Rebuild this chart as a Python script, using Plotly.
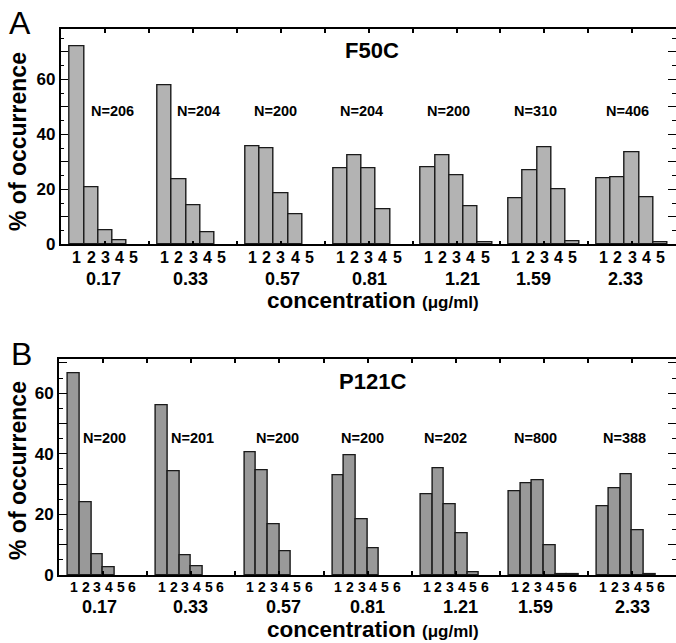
import plotly.graph_objects as go

# ---------------- data ----------------
concentrations = ["0.17", "0.33", "0.57", "0.81", "1.21", "1.59", "2.33"]

f50c_n = [206, 204, 200, 204, 200, 310, 406]
f50c_bins = ["1", "2", "3", "4", "5"]
f50c_pct = [
    [72.2, 20.8, 5.2, 1.6, 0],
    [57.8, 23.5, 14.2, 4.4, 0],
    [35.5, 34.9, 18.5, 10.9, 0],
    [27.5, 32.4, 27.5, 12.7, 0],
    [28.0, 32.4, 25.0, 13.9, 0.6],
    [16.7, 27.0, 35.3, 20.0, 1.1],
    [24.0, 24.5, 33.3, 17.1, 0.7],
]

p121c_n = [200, 201, 200, 200, 202, 800, 388]
p121c_bins = ["1", "2", "3", "4", "5", "6"]
p121c_pct = [
    [66.6, 24.0, 6.8, 2.4, 0, 0],
    [56.0, 34.2, 6.4, 2.9, 0, 0],
    [40.4, 34.4, 16.9, 7.9, 0, 0],
    [32.9, 39.5, 18.4, 8.8, 0, 0],
    [26.6, 35.1, 23.3, 13.7, 0.9, 0],
    [27.6, 30.2, 31.4, 9.8, 0.3, 0.1],
    [22.7, 28.6, 33.4, 14.6, 0.2, 0],
]

# ---------------- styling / layout ----------------
W, H = 676, 643
FONT = "Arial, Liberation Sans, sans-serif"


def fx(px):
    return px / W


def fy(px):
    return 1 - px / H


panels = [
    dict(letter="A", name="F50C", n=f50c_n, bins=f50c_bins, pct=f50c_pct,
         color="#b3b3b3", period=6.163, xrange=[-1.15, 42.06], yrange=[0, 78.2],
         left=60.5, top=29.3, bottom=244.3,
         letter_xy=(20, 23), name_xy=(372, 50), n_y=111,
         n_shift=[7, 5, -5, -7, -8, -9, -5],
         bin_y=257, bin_size=16, conc_y=279, conc_shift=[-2, -3, 2, 1, 6, -11, -7],
         title_y=300, ytitle_y=142),
    dict(letter="B", name="P121C", n=p121c_n, bins=p121c_bins, pct=p121c_pct,
         color="#999999", period=7.556, xrange=[-1.3, 51.6], yrange=[0, 71.2],
         left=58.8, top=359.3, bottom=575,
         letter_xy=(21, 354), name_xy=(372, 381), n_y=438,
         n_shift=[1, 1, -2, -5, -10, -8, -8],
         bin_y=587, bin_size=14, conc_y=607, conc_shift=[-4, -1, 4, 0, 5, -8, 0],
         title_y=629, ytitle_y=471),
]

fig = go.Figure()
annotations = []
layout_axes = {}


def ann(text, x, y, xref="paper", size=14, xshift=0, angle=0):
    return dict(text=text, x=x, y=y, xref=xref, yref="paper", showarrow=False,
                xanchor="center", yanchor="middle", xshift=xshift,
                textangle=angle, font=dict(family=FONT, size=size, color="black"))


for i, p in enumerate(panels):
    xa = "x" if i == 0 else f"x{i+1}"
    ya = "y" if i == 0 else f"y{i+1}"
    nb = len(p["bins"])
    P = p["period"]
    xs, ys = [], []
    for g, row in enumerate(p["pct"]):
        for k, v in enumerate(row):
            xs.append(g * P + k)
            ys.append(v if v > 0 else None)  # empty bins are not drawn
    fig.add_trace(go.Bar(
        x=xs, y=ys, width=1, xaxis=xa, yaxis=ya,
        marker=dict(color=p["color"], line=dict(color="#1a1a1a", width=1.4)),
        showlegend=False, hoverinfo="skip"))

    centers = [g * P + (nb - 1) / 2 for g in range(len(concentrations))]
    tickx = []
    for g, c in enumerate(centers):
        tickx.append(c)
        if g < len(centers) - 1:
            tickx.append(c + P / 2)

    xkey = "xaxis" if i == 0 else f"xaxis{i+1}"
    ykey = "yaxis" if i == 0 else f"yaxis{i+1}"
    layout_axes[xkey] = dict(
        domain=[fx(p["left"]), 1], anchor=ya, range=p["xrange"],
        automargin=False,
        showgrid=False, zeroline=False, showline=True, linecolor="black",
        linewidth=1.5, mirror="ticks", ticks="inside", ticklen=4,
        tickwidth=1.5, tickcolor="black", tickvals=tickx,
        showticklabels=False, fixedrange=True)
    yt = list(range(0, 80, 10))
    layout_axes[ykey] = dict(
        domain=[fy(p["bottom"]), fy(p["top"])], anchor=xa, range=p["yrange"],
        automargin=False,
        showgrid=False, zeroline=False, showline=True, linecolor="black",
        linewidth=1.5, mirror="ticks", ticks="inside", ticklen=8,
        tickwidth=1.2, tickcolor="black", tickvals=yt,
        ticktext=[f"<b>{v}</b>" if v % 20 == 0 else "" for v in yt],
        tickfont=dict(family=FONT, size=17, color="black"),
        minor=dict(dtick=5, ticks="inside", ticklen=4, tickwidth=1.2,
                   tickcolor="black"),
        fixedrange=True)

    annotations.append(ann(p["letter"], fx(p["letter_xy"][0]),
                           fy(p["letter_xy"][1]), size=32))
    annotations.append(ann(f"<b>{p['name']}</b>", fx(p["name_xy"][0]),
                           fy(p["name_xy"][1]), size=22))
    for g, c in enumerate(centers):
        annotations.append(ann(f"<b>N={p['n'][g]}</b>", c, fy(p["n_y"]),
                               xref=xa, size=14.5, xshift=p["n_shift"][g]))
        annotations.append(ann(f"<b>{concentrations[g]}</b>", c, fy(p["conc_y"]),
                               xref=xa, size=18, xshift=p["conc_shift"][g]))
        for k, b in enumerate(p["bins"]):
            annotations.append(ann(f"<b>{b}</b>", g * P + k, fy(p["bin_y"]),
                                   xref=xa, size=p["bin_size"]))
    annotations.append(ann(
        "<b>concentration <span style='font-size:17px'>(μg/ml)</span></b>",
        fx(373), fy(p["title_y"]), size=22.5))
    annotations.append(ann("<b>% of occurrence</b>", fx(18), fy(p["ytitle_y"]),
                           size=23, angle=-90))

fig.update_layout(
    template="none",
    width=W, height=H, margin=dict(l=0, r=0, t=0, b=0, autoexpand=False),
    paper_bgcolor="white", plot_bgcolor="white",
    bargap=0, annotations=annotations, **layout_axes)

fig.write_html("out.html")
